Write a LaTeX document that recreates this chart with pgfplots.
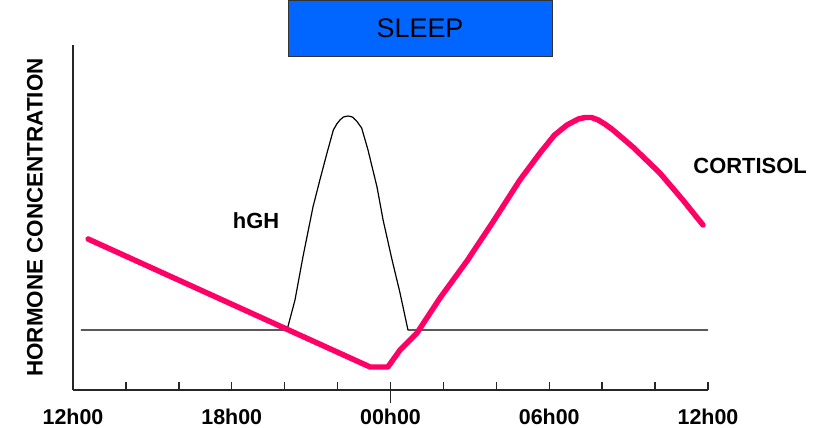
\documentclass[border=0pt]{standalone}
\usepackage{fontspec}
\setmainfont{Liberation Sans}
\usepackage{pgfplots}
\pgfplotsset{compat=1.18}
\definecolor{cortisol}{RGB}{255,0,102}
\definecolor{sleepblue}{RGB}{0,102,255}
\begin{document}
\begin{tikzpicture}
\useasboundingbox (0,0) rectangle (828bp,428bp);
\begin{axis}[
  at={(73bp,38bp)}, anchor=south west,
  scale only axis, width=635bp, height=345bp,
  xmin=12, xmax=36, ymin=0, ymax=345,
  axis x line*=bottom, axis y line*=left,
  axis line style={line width=1.5pt, color=black!85},
  xtick={12,18,24,30,36},
  xticklabels={12h00,18h00,00h00,06h00,12h00},
  minor xtick={14,16,20,22,26,28,32,34},
  ytick=\empty,
  tick align=inside,
  major tick length=8bp, minor tick length=8bp,
  tick style={line width=1.5pt, color=black!85},
  extra x ticks={24}, extra x tick labels={},
  extra x tick style={tick align=outside, major tick length=13bp},
  xticklabel style={font=\fontsize{21.5}{24}\selectfont\bfseries, yshift=-15bp},
  ylabel={HORMONE CONCENTRATION},
  ylabel style={font=\fontsize{22.5}{26}\selectfont\bfseries, at={(axis description cs:-0.0598,0.5)}, anchor=center},
  title={SLEEP},
  title style={at={(axis description cs:0.5465,0.9478)}, anchor=south, fill=sleepblue, draw=black!80, line width=1pt, minimum width=264bp, minimum height=56bp, inner sep=0pt, font=\fontsize{27}{30}\selectfont},
  clip=false,
]
\addplot[black, line width=1.2pt, line join=round] coordinates {
  (12.30,60) (20.09,60) (20.39,90) (20.69,133) (21.07,183) (21.33,210)
  (21.60,237) (21.84,260) (21.97,266) (22.09,270) (22.22,273) (22.40,274)
  (22.56,273) (22.72,269) (22.91,262) (23.15,240) (23.49,203) (23.72,170)
  (24.06,130) (24.36,97) (24.66,60) (36.0,60)
};
\addplot[cortisol, line width=5.5pt, line join=round, line cap=round] coordinates {
  (12.57,151) (23.23,23) (23.90,23) (24.36,40) (25.0,57) (25.87,92) (26.89,129)
  (27.87,168) (28.89,210) (29.65,237) (30.2,255) (30.67,265) (31.1,271)
  (31.35,272.5) (31.6,272.5) (31.85,270) (32.1,266) (32.41,260) (33.16,243)
  (34.18,217) (35.05,190) (35.81,165)
};
\node[font=\fontsize{22}{26}\selectfont\bfseries] at (axis cs:18.92,169) {hGH};
\node[font=\fontsize{22}{26}\selectfont\bfseries] at (axis cs:37.59,224) {CORTISOL};
\end{axis}
\end{tikzpicture}
\end{document}
